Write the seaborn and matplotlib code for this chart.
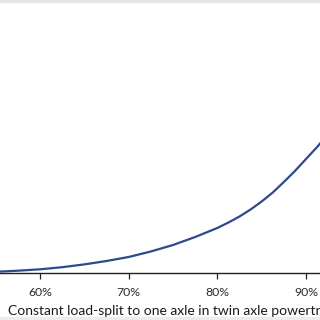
import matplotlib
matplotlib.use("Agg")
import matplotlib.pyplot as plt
import seaborn as sns
import pandas as pd
from matplotlib.ticker import FuncFormatter
from matplotlib.patches import Rectangle

# Data (y in arbitrary units, axis not visible)
load_split_pct = [55, 57.5, 60, 62.5, 65, 67.5, 70, 72.5, 75, 77.5, 80,
                  81.25, 82.5, 83.75, 85, 86.25, 87.5, 88.75, 90,
                  91.25, 92.5, 93.75, 95, 97.5, 100]
metric = [1.2, 2.3, 3.7, 5.8, 8.6, 12, 16, 21.5, 28, 36, 45,
          50.5, 56.5, 63.5, 71.5, 80.5, 91, 102, 114,
          126, 139, 155, 172, 215, 268]
tick_values = [60, 70, 80, 90]

df = pd.DataFrame({"split": load_split_pct, "metric": metric})

sns.set_theme(style="white")
plt.rcParams["font.family"] = ["Lato", "DejaVu Sans"]

fig = plt.figure(figsize=(3.2, 3.2), dpi=100)
W = H = 320.0
left_px, right_px = -48.7, 394.7
bottom_px, top_px = 273.0, -27.0
ax = fig.add_axes([left_px / W, (H - bottom_px) / H,
                   (right_px - left_px) / W, (bottom_px - top_px) / H])

sns.lineplot(data=df, x="split", y="metric", ax=ax, color="#2d4a8a",
             linewidth=1.6)

ax.set_xlim(50, 100)
ax.set_ylim(0, 300)
ax.set_xticks(tick_values)
ax.xaxis.set_major_formatter(FuncFormatter(lambda v, p: f"{v:.0f}%"))
ax.set_yticks([])
ax.set_ylabel("")
ax.set_xlabel("Constant load-split to one axle in twin axle powertrain",
              fontsize=10, color="#1a1a1a", labelpad=5)
ax.tick_params(axis="x", direction="out", length=4, width=0.9,
               color="#222222", labelsize=8.8, labelcolor="#2a2a2a", pad=6,
               bottom=True)
for s in ["top", "right", "left"]:
    ax.spines[s].set_visible(False)
ax.spines["bottom"].set_color("#222222")
ax.spines["bottom"].set_linewidth(1.0)

fig.add_artist(Rectangle((0, 1 - 2 / H), 1, 2 / H, transform=fig.transFigure,
                         color="#e6e6e6", zorder=10))
fig.add_artist(Rectangle((0, 0), 1, 3 / H, transform=fig.transFigure,
                         color="#ececec", zorder=10))

fig.savefig("out.png", dpi=100)
